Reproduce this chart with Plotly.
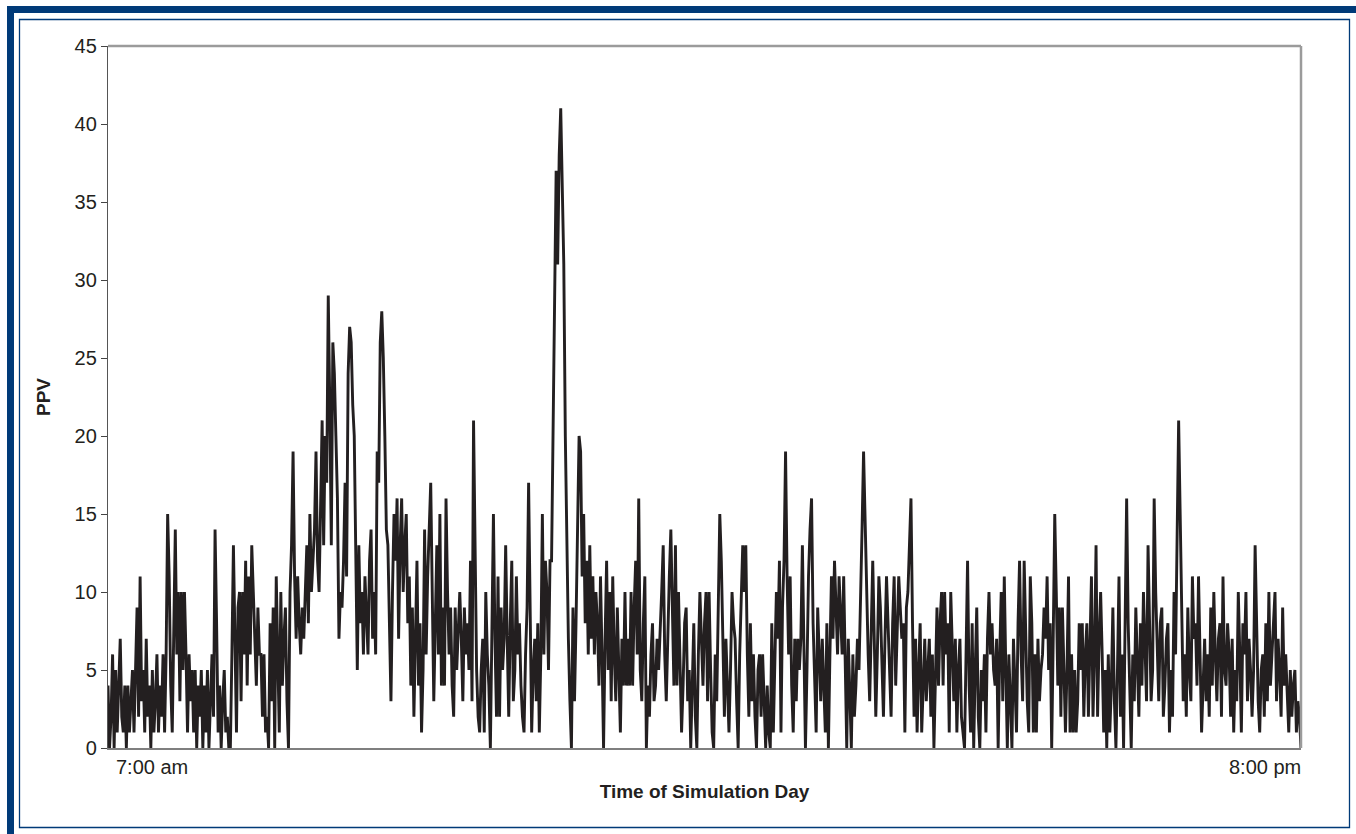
import plotly.graph_objects as go

# ---- data (PPV per minute, 7:00 am .. 8:00 pm) ----
ppv = [
    4,0,2,6,0,5,1,4,7,2,1,4,0,4,1,3,5,1,6,9,
    2,11,3,5,1,7,2,4,0,5,1,3,6,1,4,2,6,1,6,15,
    11,4,1,9,14,6,10,3,10,5,10,6,1,6,3,5,1,5,0,4,
    2,5,0,4,1,5,0,3,6,2,14,8,1,4,0,3,5,1,2,0,
    0,6,13,7,1,9,10,3,10,6,12,4,11,6,13,10,7,4,9,6,
    6,2,6,1,2,0,8,3,9,0,11,5,1,10,4,7,9,3,0,10,
    13,19,11,7,11,8,6,9,7,10,13,8,15,10,12,14,19,12,10,15,
    21,13,20,17,29,22,13,26,24,20,16,7,10,9,12,17,11,24,27,26,
    22,20,13,5,13,8,10,6,11,8,6,12,14,7,10,6,19,17,26,28,
    25,20,14,13,7,3,10,15,12,16,7,13,16,10,13,15,8,11,4,9,
    2,7,12,4,8,1,5,14,6,11,14,17,10,3,8,13,6,15,4,9,
    4,16,10,6,9,4,2,9,5,8,10,7,3,9,6,8,5,12,3,21,
    12,5,2,1,5,7,1,10,6,4,0,8,15,7,2,11,2,9,5,7,
    13,7,2,8,12,3,5,11,6,8,4,2,1,6,9,17,8,1,5,7,
    3,8,1,6,15,6,12,10,5,12,12,20,30,37,31,38,41,35,31,20,
    12,7,3,0,9,3,8,15,20,19,11,15,8,12,6,13,7,11,6,10,
    8,4,11,6,0,7,12,5,10,3,11,6,3,9,5,1,7,4,10,4,
    7,4,10,4,9,12,6,16,5,3,8,11,0,4,2,6,8,3,4,7,
    5,7,10,13,6,3,8,11,14,9,4,13,4,10,6,1,4,8,9,3,
    5,0,4,8,2,0,6,10,7,4,8,10,3,10,5,1,0,6,3,9,
    15,12,6,2,7,4,1,5,10,8,7,3,0,6,9,13,10,13,6,2,
    8,3,6,2,0,5,6,2,6,3,0,4,1,0,8,1,5,10,7,12,
    1,9,12,19,11,6,11,4,1,7,3,7,5,7,13,6,0,5,11,14,
    16,8,5,1,9,6,3,7,4,1,8,0,6,11,7,12,9,6,11,8,
    6,11,4,0,7,3,0,6,2,4,7,5,9,14,19,14,10,6,3,8,
    12,7,2,6,11,9,6,2,7,11,8,5,2,8,11,4,7,11,9,7,
    8,1,9,10,13,16,8,2,7,1,5,8,1,4,7,3,5,7,2,6,
    0,5,9,4,8,10,4,10,6,8,1,10,7,3,7,1,5,7,2,1,
    0,6,12,4,1,8,0,5,9,2,0,5,3,6,1,7,10,6,8,5,
    4,7,0,6,10,3,11,5,0,6,3,0,7,4,1,8,12,6,3,12,
    8,3,1,11,8,1,6,1,7,3,5,6,9,7,11,5,8,0,7,15,
    10,4,9,2,9,4,1,5,11,1,6,1,5,1,3,8,5,8,2,6,
    8,2,7,11,2,6,13,2,7,10,6,1,5,0,6,1,4,9,3,0,
    5,11,2,6,0,9,16,8,4,0,6,3,9,5,2,8,4,10,6,3,
    13,7,3,5,16,10,6,3,8,9,2,4,7,8,1,5,2,10,6,14,
    21,15,9,3,6,2,9,5,3,11,7,8,4,11,6,1,4,7,3,6,
    2,9,4,10,6,3,7,8,2,11,5,4,8,6,2,7,1,5,3,10,
    6,1,8,6,10,3,7,5,2,5,13,8,3,1,5,6,2,8,3,10,
    4,6,8,10,3,7,5,2,9,4,6,3,1,5,2,4,5,1,3,2,0,
]
minutes = list(range(len(ppv)))
x_tick_labels = ["7:00 am", "8:00 pm"]
y_ticks = [0, 5, 10, 15, 20, 25, 30, 35, 40, 45]
x_title = "Time of Simulation Day"
y_title = "PPV"

# ---- layout geometry (pixels) ----
W, H = 1356, 834
L, R, T, B = 108, 1301, 46, 748
FONT = "Liberation Sans, Arial, sans-serif"
INK = "#231f20"
BLUE = "#003a78"

def fx(px):
    return (px - L) / (R - L)

def fy(py):
    return (B - py) / (B - T)

fig = go.Figure()
fig.add_trace(go.Scatter(
    x=minutes, y=ppv, mode="lines",
    line=dict(color=INK, width=2.9),
    hoverinfo="skip", showlegend=False,
))

shapes = [
    # thick blue frame band (top & left)
    dict(type="rect", xref="paper", yref="paper",
         x0=fx(7), x1=fx(W + 5), y0=fy(H + 5), y1=fy(6),
         fillcolor=BLUE, line=dict(width=0), layer="below"),
    dict(type="rect", xref="paper", yref="paper",
         x0=fx(14), x1=fx(W + 5), y0=fy(H + 5), y1=fy(13),
         fillcolor="white", line=dict(width=0), layer="below"),
    # thin inner blue frame
    dict(type="rect", xref="paper", yref="paper",
         x0=fx(19.5), x1=fx(1349.5), y0=fy(827.5), y1=fy(19.5),
         line=dict(color=BLUE, width=1.3), layer="below"),
    # gray top and right plot borders
    dict(type="line", xref="paper", yref="paper",
         x0=0, x1=1, y0=1, y1=1, line=dict(color="#9b9b9b", width=2.5)),
    dict(type="line", xref="paper", yref="paper",
         x0=1, x1=1, y0=0, y1=1, line=dict(color="#9b9b9b", width=2.5)),
]

annotations = [
    dict(text=x_tick_labels[0], x=minutes[0], y=0, xref="x", yref="paper",
         xanchor="left", yanchor="top", xshift=6, yshift=-6, showarrow=False,
         font=dict(family=FONT, size=20, color=INK)),
    dict(text=x_tick_labels[1], x=minutes[-1], y=0, xref="x", yref="paper",
         xanchor="right", yanchor="top", xshift=2, yshift=-6, showarrow=False,
         font=dict(family=FONT, size=20, color=INK)),
]

fig.update_layout(
    width=W, height=H,
    margin=dict(l=L, r=W - R, t=T, b=H - B, pad=0),
    paper_bgcolor="white", plot_bgcolor="white",
    font=dict(family=FONT, size=20, color=INK),
    shapes=shapes, annotations=annotations,
    xaxis=dict(
        range=[minutes[0], minutes[-1]], showgrid=False, zeroline=False,
        showticklabels=False, ticks="",
        showline=True, linecolor="#7f7f7f", linewidth=1.5,
        title=dict(text="<b>" + x_title + "</b>", standoff=36,
                   font=dict(family=FONT, size=19, color=INK)),
    ),
    yaxis=dict(
        range=[0, 45], tickvals=y_ticks, showgrid=False, zeroline=False,
        ticks="outside", ticklen=6, tickcolor="#444", tickwidth=1.2,
        showline=True, linecolor="#555", linewidth=1.3,
        tickfont=dict(family=FONT, size=20, color=INK),
        title=dict(text="<b>" + y_title + "</b>", standoff=18,
                   font=dict(family=FONT, size=19, color=INK)),
    ),
)

fig.write_html(
    "out.html",
    config={"displayModeBar": False},
    post_script="document.body.style.margin='0';document.body.style.overflow='hidden';",
)
